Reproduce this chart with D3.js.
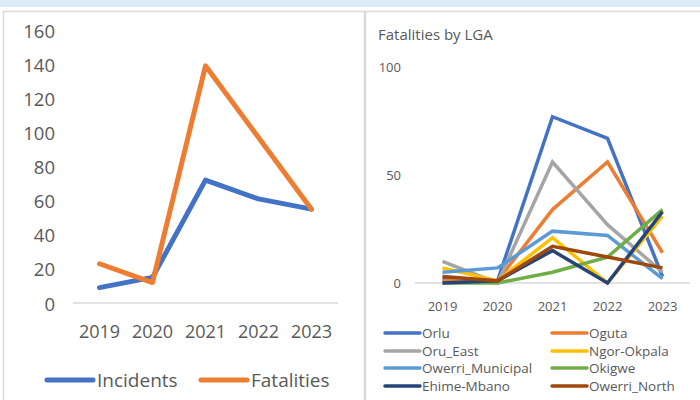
<!DOCTYPE html>
<html lang="en">
  <head>
    <meta charset="UTF-8" />
    <title>Incidents and Fatalities</title>
    <style>
      body { margin: 0; background: #fff; }
      text { font-family: "Open Sans", sans-serif; fill: #595959; }
    </style>
  </head>
  <body>
    <div id="chart"></div>

    <script src="https://d3js.org/d3.v7.min.js"></script>
    <script>
      // data
      const years = ["2019", "2020", "2021", "2022", "2023"];
      const incidents = [9, 15, 72, 61, 55];
      const fatalities = [23, 12, 139, 97, 55];
      const leftTicks = [0, 20, 40, 60, 80, 100, 120, 140, 160];

      const lgaNames = ["Orlu", "Oguta", "Oru_East", "Ngor-Okpala",
        "Owerri_Municipal", "Okigwe", "Ehime-Mbano", "Owerri_North"];
      const orlu = [2, 1, 77, 67, 3];
      const oguta = [1, 1, 34, 56, 14];
      const oruEast = [10, 0, 56, 27, 5];
      const ngorOkpala = [7, 1, 21, 0, 31];
      const owerriMunicipal = [5, 7, 24, 22, 2];
      const okigwe = [0, 0, 5, 12, 34];
      const ehimeMbano = [0, 1, 15, 0, 33];
      const owerriNorth = [3, 1, 17, 12, 7];
      const rightTicks = [0, 50, 100];

      const lgaValues = [orlu, oguta, oruEast, ngorOkpala,
        owerriMunicipal, okigwe, ehimeMbano, owerriNorth];
      const lgaColors = ["#4472C4", "#ED7D31", "#A5A5A5", "#FFC000",
        "#5B9BD5", "#70AD47", "#264478", "#9E480E"];

      const w = 700;
      const h = 400;

      const svg = d3.select("#chart")
        .append("svg")
        .attr("width", w)
        .attr("height", h);

      // background band and panel borders
      svg.append("rect")
        .attr("x", 0).attr("y", 0).attr("width", w).attr("height", 7)
        .attr("fill", "#DDEBF7");
      svg.append("rect")
        .attr("x", 3.5).attr("y", 11.5).attr("width", 361).attr("height", 400)
        .attr("fill", "none").attr("stroke", "#D9D9D9").attr("stroke-width", 1.5);
      svg.append("rect")
        .attr("x", 365.5).attr("y", 11.5).attr("width", 340).attr("height", 400)
        .attr("fill", "none").attr("stroke", "#D9D9D9").attr("stroke-width", 1.5);

      // ---------- left chart ----------
      const x1 = d3.scalePoint().domain(years).range([73, 338]).padding(0.5);
      const y1 = d3.scaleLinear().domain([0, 160]).range([303, 30]);

      const left = svg.append("g");

      left.append("line")
        .attr("x1", 73).attr("x2", 338)
        .attr("y1", y1(0)).attr("y2", y1(0))
        .attr("stroke", "#D9D9D9").attr("stroke-width", 1.5);

      left.selectAll(".ytick")
        .data(leftTicks)
        .enter()
        .append("text")
        .attr("x", 55)
        .attr("y", (d) => y1(d))
        .attr("text-anchor", "end")
        .attr("dominant-baseline", "central")
        .style("font-size", "18.5px")
        .text((d) => d);

      left.selectAll(".xtick")
        .data(years)
        .enter()
        .append("text")
        .attr("x", (d) => x1(d))
        .attr("y", 331)
        .attr("text-anchor", "middle")
        .attr("dominant-baseline", "central")
        .style("font-size", "18px")
        .text((d) => d);

      const line1 = d3.line()
        .x((d, i) => x1(years[i]))
        .y((d) => y1(d));

      const leftSeries = [
        { name: "Incidents", values: incidents, color: "#4472C4" },
        { name: "Fatalities", values: fatalities, color: "#ED7D31" },
      ];

      left.selectAll(".series")
        .data(leftSeries)
        .enter()
        .append("path")
        .attr("d", (d) => line1(d.values))
        .attr("fill", "none")
        .attr("stroke", (d) => d.color)
        .attr("stroke-width", 5)
        .attr("stroke-linejoin", "round")
        .attr("stroke-linecap", "round");

      // left legend
      const leg1 = left.selectAll(".leg")
        .data(leftSeries)
        .enter()
        .append("g")
        .attr("transform", (d, i) => `translate(${i === 0 ? 47 : 201}, 380)`);
      leg1.append("line")
        .attr("x1", 0).attr("x2", 46)
        .attr("stroke", (d) => d.color)
        .attr("stroke-width", 5)
        .attr("stroke-linecap", "round");
      leg1.append("text")
        .attr("x", 50)
        .attr("dominant-baseline", "central")
        .style("font-size", "19px")
        .text((d) => d.name);

      // ---------- right chart ----------
      const x2 = d3.scalePoint().domain(years).range([415, 690]).padding(0.5);
      const y2 = d3.scaleLinear().domain([0, 100]).range([283, 67]);

      const right = svg.append("g");

      right.append("text")
        .attr("x", 378)
        .attr("y", 40)
        .style("font-size", "15px")
        .text("Fatalities by LGA");

      right.append("line")
        .attr("x1", 415).attr("x2", 690)
        .attr("y1", y2(0)).attr("y2", y2(0))
        .attr("stroke", "#D9D9D9").attr("stroke-width", 1.5);

      right.selectAll(".ytick")
        .data(rightTicks)
        .enter()
        .append("text")
        .attr("x", 401)
        .attr("y", (d) => y2(d))
        .attr("text-anchor", "end")
        .attr("dominant-baseline", "central")
        .style("font-size", "13px")
        .text((d) => d);

      right.selectAll(".xtick")
        .data(years)
        .enter()
        .append("text")
        .attr("x", (d) => x2(d))
        .attr("y", 306)
        .attr("text-anchor", "middle")
        .attr("dominant-baseline", "central")
        .style("font-size", "13px")
        .text((d) => d);

      const line2 = d3.line()
        .x((d, i) => x2(years[i]))
        .y((d) => y2(d));

      right.selectAll(".series")
        .data(lgaValues)
        .enter()
        .append("path")
        .attr("d", (d) => line2(d))
        .attr("fill", "none")
        .attr("stroke", (d, i) => lgaColors[i])
        .attr("stroke-width", 3.5)
        .attr("stroke-linejoin", "miter");

      // right legend
      const legRows = [333, 351, 368, 386];
      const leg2 = right.selectAll(".leg")
        .data(lgaNames)
        .enter()
        .append("g")
        .attr("transform", (d, i) =>
          `translate(${i % 2 === 0 ? 385 : 552}, ${legRows[Math.floor(i / 2)]})`);
      leg2.append("line")
        .attr("x1", 0).attr("x2", 35)
        .attr("stroke", (d, i) => lgaColors[i])
        .attr("stroke-width", 3.5)
        .attr("stroke-linecap", "round");
      leg2.append("text")
        .attr("x", 37)
        .attr("dominant-baseline", "central")
        .style("font-size", "13.5px")
        .text((d) => d);
    </script>
  </body>
</html>
